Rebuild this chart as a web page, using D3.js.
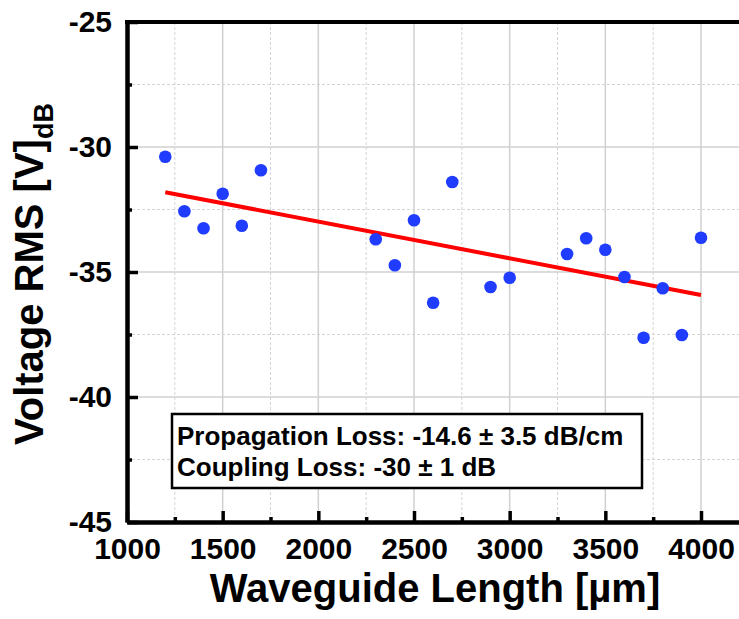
<!DOCTYPE html>
<html>
<head>
<meta charset="utf-8">
<script src="https://cdn.jsdelivr.net/npm/d3@7"></script>
<style>
	html, body { margin: 0; padding: 0; background: #ffffff; overflow: hidden; }
	svg { display: block; }
	text { font-family: "Liberation Sans", Arial, sans-serif; font-weight: bold; fill: #000; }
</style>
</head>
<body>
<svg id="chart" width="739" height="619"></svg>
<script>
// measured points (waveguide length in um, rms voltage in dB)
var lengths = [1200, 1300, 1400, 1500, 1600, 1700, 2300, 2400, 2500, 2600, 2700,
	2900, 3000, 3300, 3400, 3500, 3600, 3700, 3800, 3900, 4000];
var voltages = [-30.39, -32.57, -33.25, -31.87, -33.15, -30.93, -33.69, -34.73, -32.93, -36.23, -31.4,
	-35.6, -35.23, -34.28, -33.65, -34.11, -35.2, -37.63, -35.65, -37.52, -33.63];

// linear fit end points
var fitLengths = [1200, 4000];
var fitVoltages = [-31.81, -35.92];

var xTicks = [1000, 1500, 2000, 2500, 3000, 3500, 4000];
var xMinorTicks = [1250, 1750, 2250, 2750, 3250, 3750, 4250];
var yTicks = [-25, -30, -35, -40, -45];
var yMinorTicks = [-27.5, -32.5, -37.5, -42.5];

var annotationLines = ["Propagation Loss: -14.6 \u00b1 3.5 dB/cm", "Coupling Loss: -30 \u00b1 1 dB"];

var svg = d3.select("#chart");

var plotLeft = 127, plotTop = 22, plotBottom = 522;

// scales
var xScale = d3.scaleLinear()
	.domain([1000, 4250])
	.range([plotLeft, plotLeft + 3250 * (574 / 3000)]);
var yScale = d3.scaleLinear()
	.domain([-45, -25])
	.range([plotBottom, plotTop]);

// plain hyphen labels, no thousands separator
var plainFormat = function(d) { return String(d); };

// grid
var grid = svg.append("g").attr("class", "grid");
grid.selectAll(".gx-minor")
	.data(xMinorTicks)
	.enter()
	.append("line")
	.attr("x1", function(d) { return xScale(d); })
	.attr("x2", function(d) { return xScale(d); })
	.attr("y1", plotTop)
	.attr("y2", plotBottom)
	.style("stroke", "#d4d4d4")
	.style("stroke-width", 1)
	.style("stroke-dasharray", "3,2");
grid.selectAll(".gy-minor")
	.data(yMinorTicks)
	.enter()
	.append("line")
	.attr("x1", plotLeft)
	.attr("x2", 739)
	.attr("y1", function(d) { return yScale(d); })
	.attr("y2", function(d) { return yScale(d); })
	.style("stroke", "#d4d4d4")
	.style("stroke-width", 1)
	.style("stroke-dasharray", "3,2");
grid.selectAll(".gx-major")
	.data(xTicks.slice(1))
	.enter()
	.append("line")
	.attr("x1", function(d) { return xScale(d); })
	.attr("x2", function(d) { return xScale(d); })
	.attr("y1", plotTop)
	.attr("y2", plotBottom)
	.style("stroke", "#d0d0d0")
	.style("stroke-width", 1.5);
grid.selectAll(".gy-major")
	.data(yTicks.slice(1, 4))
	.enter()
	.append("line")
	.attr("x1", plotLeft)
	.attr("x2", 739)
	.attr("y1", function(d) { return yScale(d); })
	.attr("y2", function(d) { return yScale(d); })
	.style("stroke", "#d0d0d0")
	.style("stroke-width", 1.5);

// axes (ticks point inwards)
var xAxis = d3.axisBottom(xScale)
	.tickValues(xTicks)
	.tickFormat(plainFormat)
	.tickSizeInner(-11)
	.tickSizeOuter(0)
	.tickPadding(16);
var xAxisMinor = d3.axisBottom(xScale)
	.tickValues(xMinorTicks)
	.tickSizeInner(-5)
	.tickSizeOuter(0)
	.tickFormat("");
var yAxis = d3.axisLeft(yScale)
	.tickValues(yTicks)
	.tickFormat(plainFormat)
	.tickSizeInner(-11)
	.tickSizeOuter(0)
	.tickPadding(15);
var yAxisMinor = d3.axisLeft(yScale)
	.tickValues(yMinorTicks)
	.tickSizeInner(-5)
	.tickSizeOuter(0)
	.tickFormat("");

svg.append("g")
	.attr("class", "axis x minor")
	.attr("transform", "translate(0," + plotBottom + ")")
	.call(xAxisMinor);
svg.append("g")
	.attr("class", "axis x")
	.attr("transform", "translate(0," + plotBottom + ")")
	.call(xAxis);
svg.append("g")
	.attr("class", "axis y minor")
	.attr("transform", "translate(" + plotLeft + ",0)")
	.call(yAxisMinor);
svg.append("g")
	.attr("class", "axis y")
	.attr("transform", "translate(" + plotLeft + ",0)")
	.call(yAxis);

svg.selectAll(".axis").attr("font-size", null).attr("font-family", null);
svg.selectAll(".axis path").style("stroke", "#000").style("stroke-width", 4);
svg.selectAll(".axis .tick line").style("stroke", "#000").style("stroke-width", 3.5);
svg.selectAll(".axis text")
	.style("font-size", "30px")
	.style("font-weight", "bold")
	.style("fill", "#000");

// top frame line
svg.append("line")
	.attr("x1", plotLeft - 2)
	.attr("x2", 739)
	.attr("y1", plotTop)
	.attr("y2", plotTop)
	.style("stroke", "#000")
	.style("stroke-width", 4);

// fit line
var fitData = fitLengths.map(function(d, i) { return { x: d, y: fitVoltages[i] }; });
svg.append("path")
	.datum(fitData)
	.attr("d", d3.line()
		.x(function(d) { return xScale(d.x); })
		.y(function(d) { return yScale(d.y); }))
	.style("fill", "none")
	.style("stroke", "#ff0000")
	.style("stroke-width", 4);

// points
var pointData = lengths.map(function(d, i) { return { x: d, y: voltages[i] }; });
svg.selectAll(".dot")
	.data(pointData)
	.enter()
	.append("circle")
	.attr("class", "dot")
	.attr("cx", function(d) { return xScale(d.x); })
	.attr("cy", function(d) { return yScale(d.y); })
	.attr("r", 6.3)
	.style("fill", "#1f3cff");

// annotation box
var note = svg.append("g").attr("class", "note");
note.append("rect")
	.attr("x", 172)
	.attr("y", 414)
	.attr("width", 470)
	.attr("height", 74)
	.style("fill", "#fff")
	.style("stroke", "#000")
	.style("stroke-width", 2.5);
note.selectAll("text")
	.data(annotationLines)
	.enter()
	.append("text")
	.attr("x", 177)
	.attr("y", function(d, i) { return 445 + i * 31; })
	.style("font-size", "26px")
	.text(function(d) { return d; });

// axis titles
svg.append("text")
	.attr("x", 435)
	.attr("y", 602)
	.style("text-anchor", "middle")
	.style("font-size", "40px")
	.text("Waveguide Length [\u00b5m]");

var yTitle = svg.append("text")
	.attr("transform", "translate(43,445) rotate(-90)")
	.style("text-anchor", "start")
	.style("font-size", "40px");
yTitle.append("tspan").text("Voltage RMS [V]");
yTitle.append("tspan")
	.attr("dy", 10)
	.style("font-size", "27px")
	.text("dB");
</script>
</body>
</html>
